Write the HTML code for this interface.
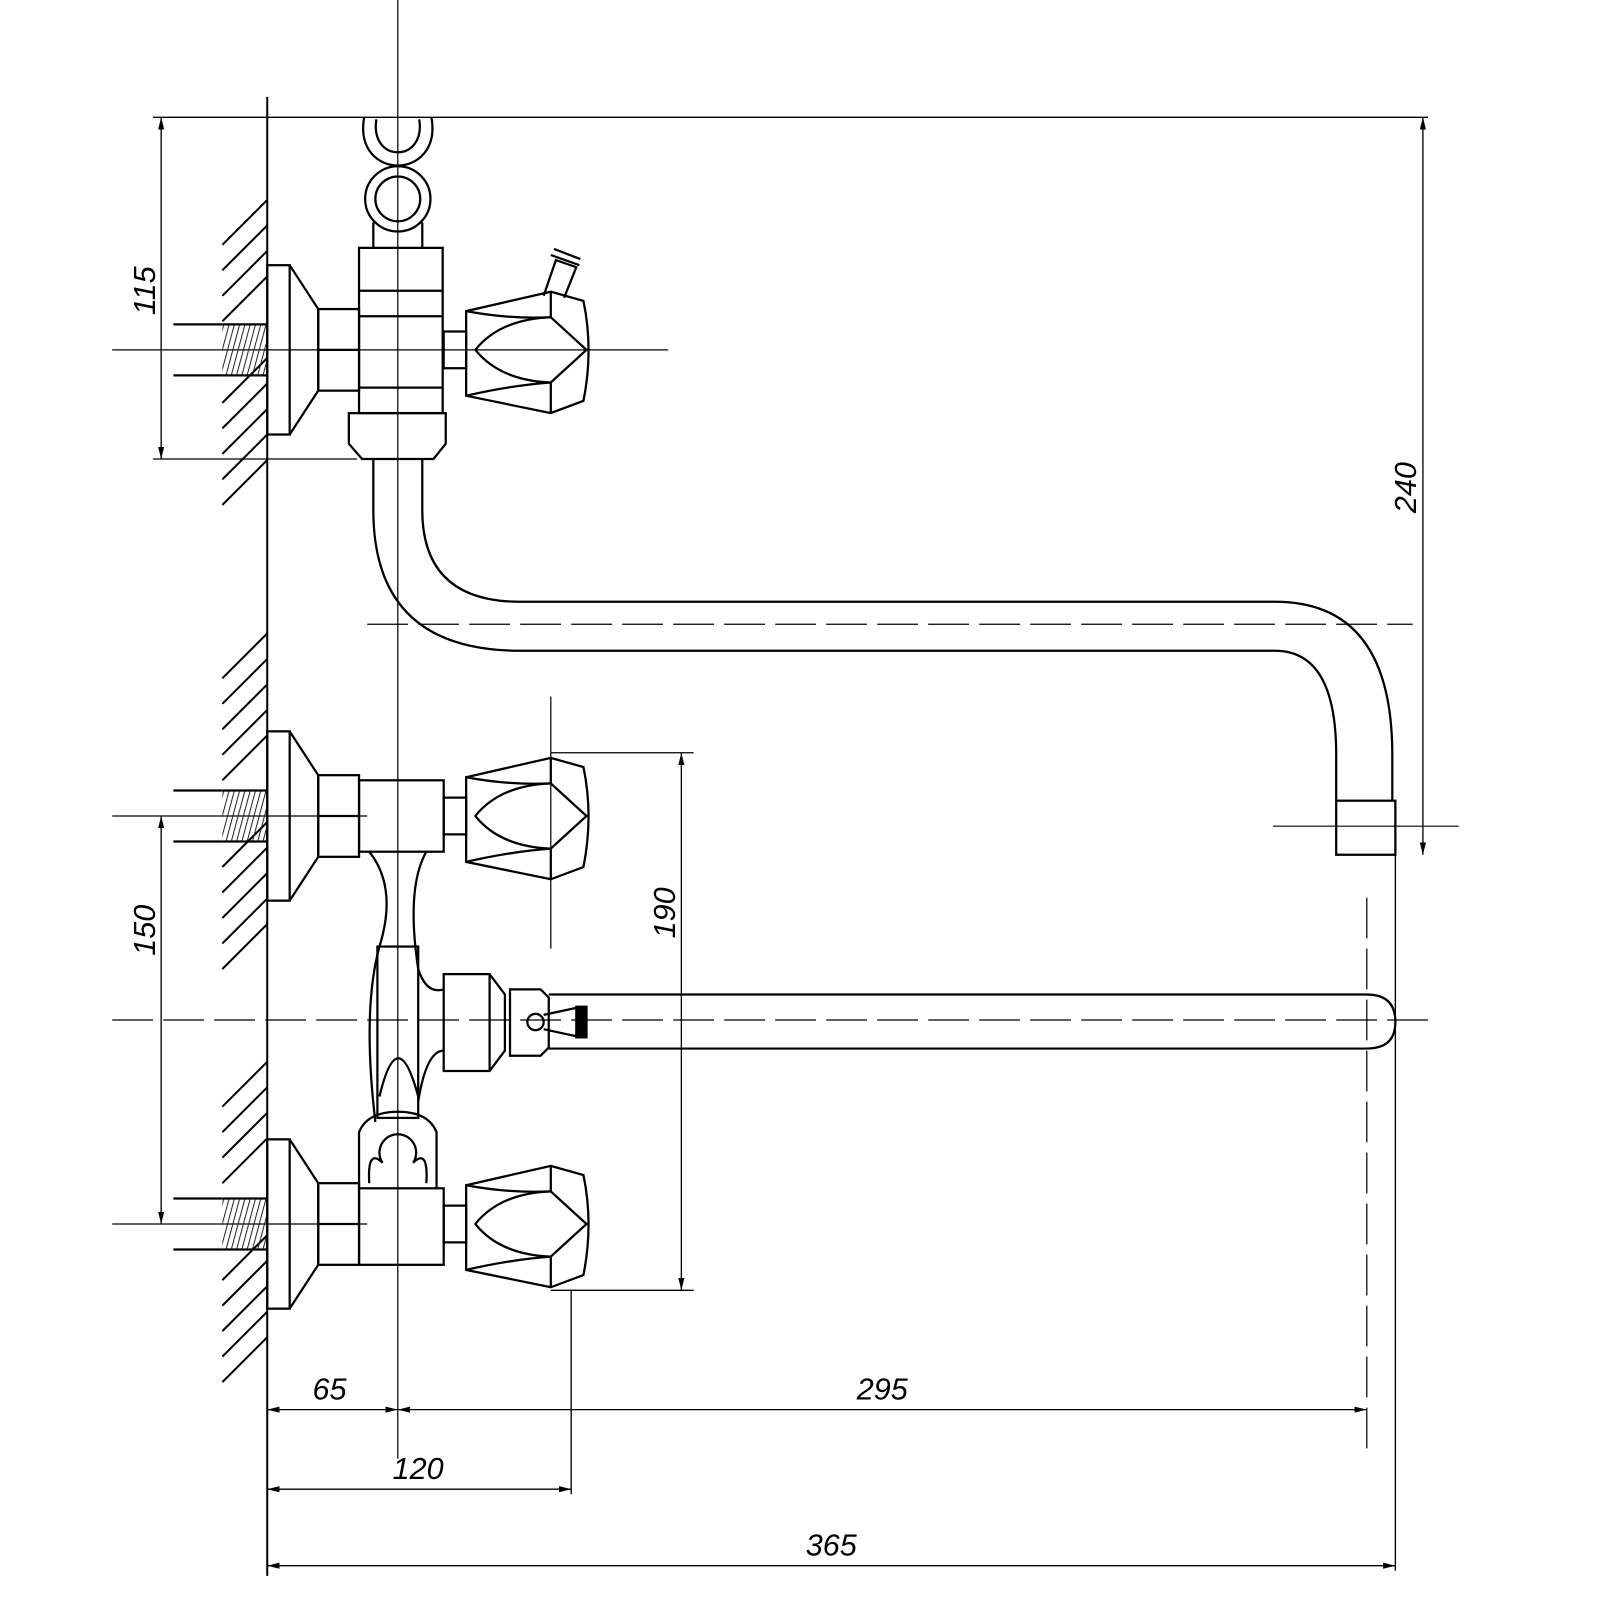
<!DOCTYPE html>
<html><head><meta charset="utf-8"><style>html,body{margin:0;padding:0;background:#fff}svg{display:block}</style></head>
<body>
<svg width="1600" height="1600" viewBox="0 0 1600 1600" xmlns="http://www.w3.org/2000/svg">
<defs>
<marker id="a" viewBox="0 0 12 6" refX="12" refY="3" markerWidth="12" markerHeight="6" orient="auto-start-reverse" markerUnits="userSpaceOnUse"><path d="M0,0 L12,3 L0,6 Z" fill="#000"/></marker>
<pattern id="th" width="5" height="5" patternUnits="userSpaceOnUse" patternTransform="rotate(15)"><line x1="0" y1="0" x2="0" y2="5" stroke="#222" stroke-width="2"/></pattern>
<g id="unit">
  <line x1="170" y1="-25" x2="218" y2="-25"/><line x1="170" y1="25" x2="218" y2="25"/>
  <rect x="218" y="-25" width="44" height="50" fill="url(#th)" stroke="none"/>
  <line x1="218" y1="-25" x2="262" y2="-25"/><line x1="218" y1="25" x2="262" y2="25"/>
  <rect x="262" y="-83" width="22" height="166"/>
  <path d="M284,-83 L312,-40 L312,40 L284,83"/>
  <rect x="312" y="-40" width="40" height="80"/><line x1="312" y1="0" x2="352" y2="0"/>
  <rect x="435" y="-18" width="22" height="36"/>
  <path d="M457,-38 L540,-57 L572,-48 Q582,0 572,50 L540,62 L457,45 Z"/>
  <path d="M466,0 Q490,-30 540,-32 L575,0 L540,32 Q490,30 466,0 Z"/>
  <path d="M457,-38 Q500,-30 540,-32 M457,45 Q500,35 540,32 M540,-57 L540,-32 M540,62 L540,32"/>
</g>
</defs>
<g transform="scale(1.02)" fill="none" stroke="#000" stroke-width="2.2" font-family="Liberation Sans, sans-serif">
<line x1="262" y1="95" x2="262" y2="1545" stroke-width="2"/>
<g stroke-width="2">
<path d="M218,240 l44,-44 M218,265 l44,-44 M218,290 l44,-44 M218,315 l44,-44 M218,395 l44,-44 M218,420 l44,-44 M218,445 l44,-44 M218,470 l44,-44 M218,495 l44,-44"/>
<path d="M218,665 l44,-44 M218,690 l44,-44 M218,715 l44,-44 M218,740 l44,-44 M218,765 l44,-44 M218,850 l44,-44 M218,875 l44,-44 M218,900 l44,-44 M218,925 l44,-44 M218,950 l44,-44"/>
<path d="M218,1085 l44,-44 M218,1110 l44,-44 M218,1135 l44,-44 M218,1160 l44,-44 M218,1255 l44,-44 M218,1280 l44,-44 M218,1305 l44,-44 M218,1330 l44,-44 M218,1355 l44,-44"/>
</g>
<g stroke-width="1.2">
<line x1="390" y1="0" x2="390" y2="1430"/>
<line x1="110" y1="343" x2="655" y2="343"/>
<line x1="110" y1="800" x2="360" y2="800"/>
<line x1="110" y1="1200" x2="360" y2="1200"/>
<line x1="540" y1="683" x2="540" y2="930"/>
<line x1="360" y1="612" x2="1385" y2="612" stroke-dasharray="40,10"/>
<line x1="110" y1="1000" x2="1400" y2="1000" stroke-dasharray="40,10"/>
<line x1="1340" y1="880" x2="1340" y2="1420" stroke-dasharray="40,10"/>
<line x1="1248" y1="810" x2="1430" y2="810"/>
</g>
<use href="#unit" transform="translate(0,343)"/>
<use href="#unit" transform="translate(0,800)"/>
<use href="#unit" transform="translate(0,1200)"/>
<rect x="352" y="243" width="82" height="162"/>
<line x1="352" y1="285" x2="434" y2="285"/><line x1="352" y1="310" x2="434" y2="310"/><line x1="352" y1="380" x2="434" y2="380"/>
<path d="M342,405 L437,405 L437,435 L425,450 L355,450 L342,435 Z"/>
<path d="M366,218 L366,243 M414,218 L414,243"/>
<circle cx="390" cy="195" r="32"/><circle cx="390" cy="195" r="22"/>
<path d="M357,115 C346,178 434,178 423,115 M369,117 C362,160 418,160 411,117"/>
<path d="M533,290 L545,255 L565,262 L553,292 M540,250 l28,10 M543,244 l26,10"/>
<path d="M366,450 L366,500 Q366,638 510,638 L1250,638 Q1310,638 1310,740 L1310,785 M414,450 L414,500 Q414,590 510,590 L1250,590 Q1365,590 1365,740 L1365,785"/>
<rect x="1310" y="785" width="58" height="53"/>
<rect x="352" y="765" width="83" height="70"/>
<path d="M362,835 Q390,870 372,928 Q355,990 368,1100 M418,835 Q398,870 410,950 Q418,975 435,970 M435,1030 Q418,1030 410,1080"/>
<rect x="370" y="928" width="40" height="168"/>
<path d="M372,1075 Q390,1000 410,1075"/>
<path d="M435,955 L480,955 L495,975 L495,1030 L480,1050 L435,1050 Z M480,955 L480,1050"/>
<path d="M500,970 L530,970 L538,978 L538,1027 L530,1035 L500,1035 Z"/>
<path d="M538,975 L1340,975 Q1368,975 1368,1002 Q1368,1028 1340,1028 L538,1028"/>
<circle cx="525" cy="1002" r="8"/>
<path d="M533,995 L570,987 L570,1017 L533,1009"/>
<rect x="565" y="987" width="10" height="30" fill="#000"/>
<rect x="352" y="1165" width="83" height="75"/>
<path d="M352,1165 L352,1110 Q360,1090 390,1090 Q420,1090 428,1110 L428,1165 M362,1160 Q360,1125 375,1140 A18,18 0 1 1 405,1140 Q420,1125 418,1160"/>
<g stroke-width="1.3">
<line x1="150" y1="115" x2="1400" y2="115"/>
<line x1="150" y1="450" x2="350" y2="450"/>
<line x1="158" y1="115" x2="158" y2="450" marker-start="url(#a)" marker-end="url(#a)"/>
<line x1="1395" y1="115" x2="1395" y2="838" marker-start="url(#a)" marker-end="url(#a)"/>
<line x1="158" y1="800" x2="158" y2="1200" marker-start="url(#a)" marker-end="url(#a)"/>
<line x1="540" y1="738" x2="680" y2="738"/>
<line x1="540" y1="1265" x2="680" y2="1265"/>
<line x1="668" y1="738" x2="668" y2="1265" marker-start="url(#a)" marker-end="url(#a)"/>
<line x1="560" y1="1265" x2="560" y2="1465"/>
<line x1="1368" y1="838" x2="1368" y2="1540"/>
<line x1="262" y1="1382" x2="390" y2="1382" marker-start="url(#a)" marker-end="url(#a)"/>
<line x1="390" y1="1382" x2="1340" y2="1382" marker-start="url(#a)" marker-end="url(#a)"/>
<line x1="262" y1="1460" x2="560" y2="1460" marker-start="url(#a)" marker-end="url(#a)"/>
<line x1="262" y1="1535" x2="1368" y2="1535" marker-start="url(#a)" marker-end="url(#a)"/>
</g>
<g fill="#000" stroke="none" font-size="30" font-style="italic">
<text x="323" y="1372" text-anchor="middle">65</text>
<text x="865" y="1372" text-anchor="middle">295</text>
<text x="410" y="1450" text-anchor="middle">120</text>
<text x="815" y="1525" text-anchor="middle">365</text>
<text transform="translate(152,285) rotate(-90)" text-anchor="middle">115</text>
<text transform="translate(1388,478) rotate(-90)" text-anchor="middle">240</text>
<text transform="translate(152,912) rotate(-90)" text-anchor="middle">150</text>
<text transform="translate(662,895) rotate(-90)" text-anchor="middle">190</text>
</g>
</g>
</svg>
</body></html>
